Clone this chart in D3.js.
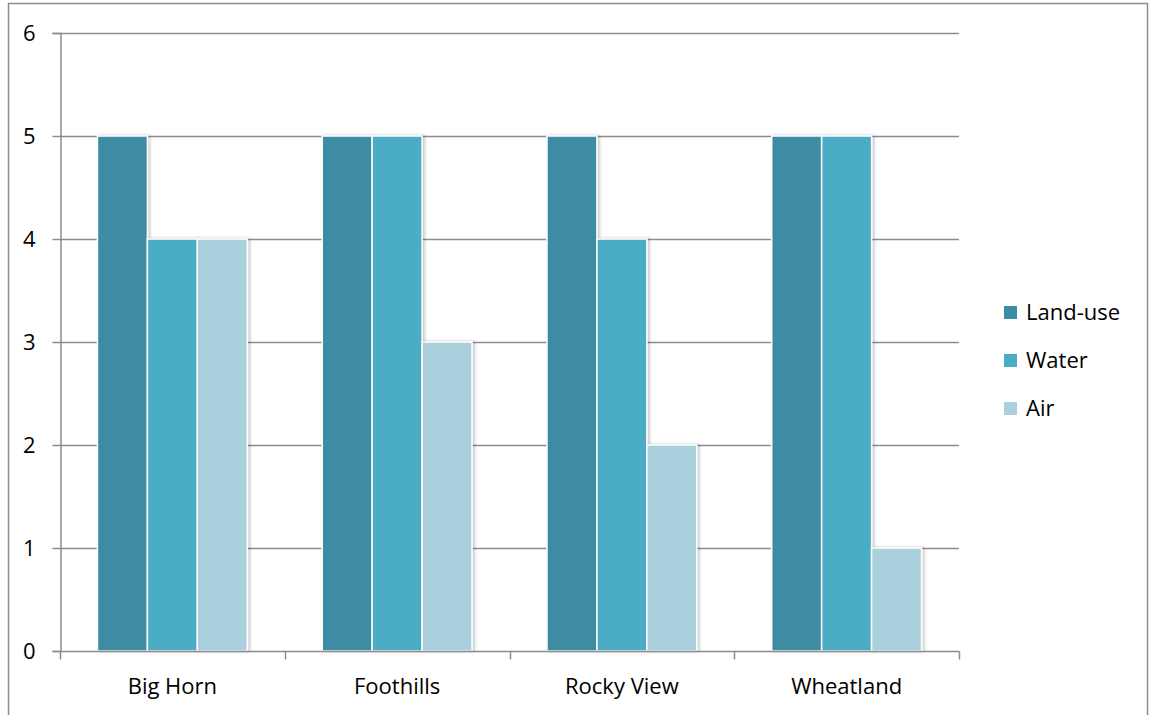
<!DOCTYPE html>
<html>
<head>
<meta charset="utf-8">
<script src="https://cdn.jsdelivr.net/npm/d3@7"></script>
<style>
  html, body { margin: 0; padding: 0; background: #fff; }
  svg { display: block; }
  text { font-family: "Open Sans", sans-serif; fill: #000; }
</style>
</head>
<body>
<svg id="chart" width="1149" height="715"></svg>
<script>
const categories = ["Big Horn", "Foothills", "Rocky View", "Wheatland"];
const seriesNames = ["Land-use", "Water", "Air"];
const landUse = [5, 5, 5, 5];
const water = [4, 5, 4, 5];
const air = [4, 3, 2, 1];
const yTicks = [0, 1, 2, 3, 4, 5, 6];
const colors = ["#3C8CA3", "#4BACC6", "#AACFDD"];

const seriesValues = [landUse, water, air];
const data = categories.map((c, i) => ({
  cat: c,
  vals: seriesNames.map((s, j) => ({ series: s, value: seriesValues[j][i] }))
}));

const svg = d3.select("#chart");
const mLeft = 60, mRight = 959, mTop = 33, mBottom = 651;
const fs = 22;

// outer frame
svg.append("rect")
  .attr("x", 8.5).attr("y", 3.5).attr("width", 1139).attr("height", 730)
  .attr("fill", "none").attr("stroke", "#8c8c8c").attr("stroke-width", 1.5);

const defs = svg.append("defs");
const f = defs.append("filter").attr("id", "sh").attr("x", "-20%").attr("y", "-5%").attr("width", "140%").attr("height", "110%");
f.append("feDropShadow").attr("dx", 2).attr("dy", 0).attr("stdDeviation", 1.5)
  .attr("flood-color", "#000").attr("flood-opacity", 0.22);

const y = d3.scaleLinear().domain([0, 6]).range([mBottom, mTop]);
const x0 = d3.scaleBand().domain(categories).range([mLeft, mRight]).paddingInner(0).paddingOuter(0);
const w = x0.bandwidth() / 4.5;
const x1 = d3.scaleBand().domain(seriesNames).range([0.75 * w, 3.75 * w]).padding(0);
const color = d3.scaleOrdinal().domain(seriesNames).range(colors);

// gridlines
svg.append("g").selectAll("line").data(yTicks.filter(t => t > 0)).join("line")
  .attr("x1", mLeft).attr("x2", mRight)
  .attr("y1", d => Math.round(y(d)) + 0.5).attr("y2", d => Math.round(y(d)) + 0.5)
  .attr("stroke", "#8c8c8c").attr("stroke-width", 1.5);

// y axis
const yAxis = svg.append("g").attr("transform", `translate(${mLeft + 0.5},0)`)
  .call(d3.axisLeft(y).tickValues(yTicks).tickSize(8).tickPadding(17).tickFormat(d3.format("d")));
yAxis.select(".domain").attr("stroke", "#8c8c8c").attr("stroke-width", 1.5);
yAxis.selectAll(".tick line").attr("stroke", "#8c8c8c").attr("stroke-width", 1.5);
yAxis.selectAll("text").attr("font-size", fs).attr("font-family", "Open Sans").attr("fill", "#000");

// bars
const groups = svg.append("g").selectAll("g").data(data).join("g")
  .attr("transform", d => `translate(${x0(d.cat)},0)`);
groups.selectAll("rect").data(d => d.vals).join("rect")
  .attr("x", d => x1(d.series))
  .attr("y", d => y(d.value))
  .attr("width", x1.bandwidth())
  .attr("height", d => y(0) - y(d.value))
  .attr("fill", d => color(d.series))
  .attr("stroke", "#fff").attr("stroke-width", 1.5)
  .attr("filter", "url(#sh)");

// x axis
const xAxisScale = d3.scaleLinear().domain([0, categories.length]).range([mLeft, mRight]);
const xAxis = svg.append("g").attr("transform", `translate(0,${Math.round(mBottom) + 0.5})`);
xAxis.append("line").attr("x1", mLeft).attr("x2", mRight + 0.5).attr("stroke", "#8c8c8c").attr("stroke-width", 1.5);
xAxis.selectAll(".tk").data(d3.range(categories.length + 1)).join("line")
  .attr("x1", d => Math.round(xAxisScale(d)) + 0.5).attr("x2", d => Math.round(xAxisScale(d)) + 0.5)
  .attr("y1", 0).attr("y2", 8).attr("stroke", "#8c8c8c").attr("stroke-width", 1.5);
xAxis.selectAll("text").data(categories).join("text")
  .attr("x", d => x0(d) + x0.bandwidth() / 2)
  .attr("y", 42).attr("text-anchor", "middle").attr("font-size", fs)
  .text(d => d);

// legend
const legend = svg.append("g").attr("transform", "translate(1004,306)");
const li = legend.selectAll("g").data(seriesNames).join("g")
  .attr("transform", (d, i) => `translate(0,${i * 48})`);
li.append("rect").attr("width", 13).attr("height", 13).attr("fill", d => color(d));
li.append("text").attr("x", 22).attr("y", 6.5).attr("dy", "0.35em").attr("font-size", fs).text(d => d);
</script>
</body>
</html>
